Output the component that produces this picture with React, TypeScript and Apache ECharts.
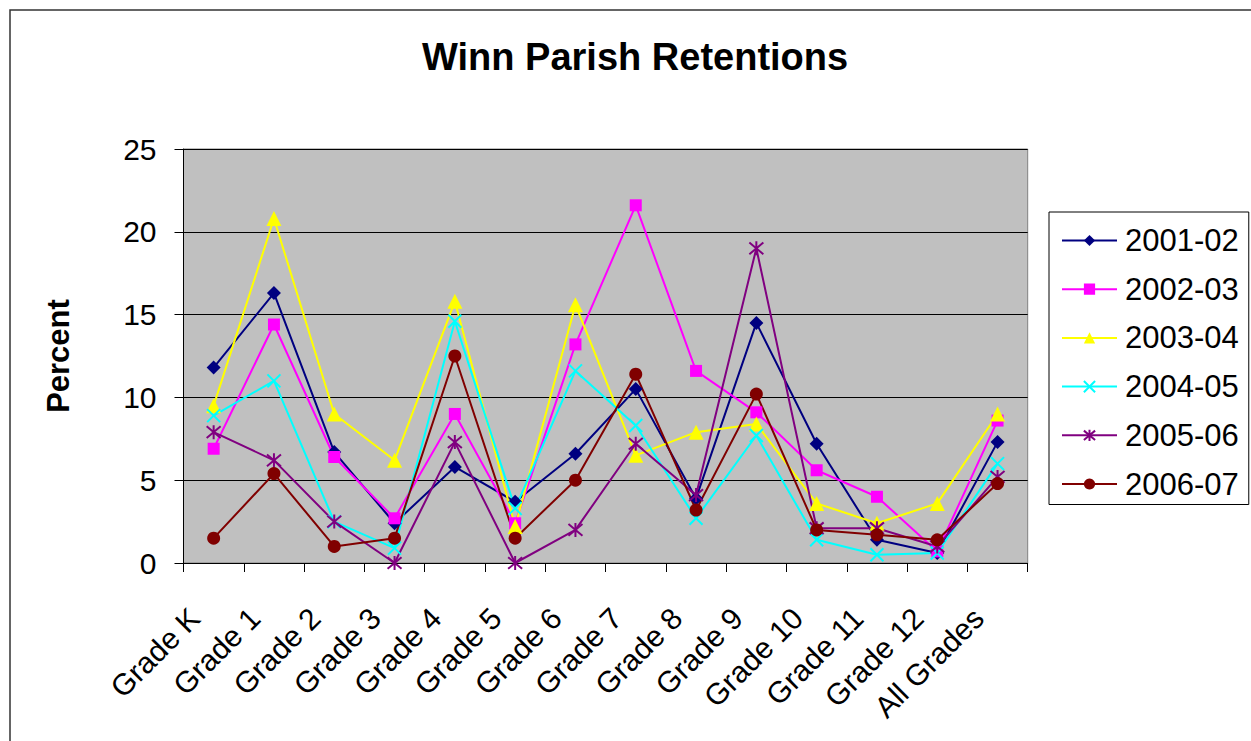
import React, { useEffect, useRef } from "react";
import * as echarts from "echarts";

const categories = ["Grade K", "Grade 1", "Grade 2", "Grade 3", "Grade 4", "Grade 5", "Grade 6", "Grade 7", "Grade 8", "Grade 9", "Grade 10", "Grade 11", "Grade 12", "All Grades"];
const seriesNames = ["2001-02", "2002-03", "2003-04", "2004-05", "2005-06", "2006-07"];
const s2001 = [11.8, 16.3, 6.7, 2.4, 5.8, 3.7, 6.6, 10.5, 3.9, 14.5, 7.2, 1.4, 0.6, 7.3];
const s2002 = [6.9, 14.4, 6.4, 2.7, 9.0, 2.4, 13.2, 21.6, 11.6, 9.1, 5.6, 4.0, 0.7, 8.6];
const s2003 = [9.5, 20.8, 9.0, 6.2, 15.8, 2.2, 15.6, 6.5, 7.9, 8.4, 3.6, 2.4, 3.6, 9.0];
const s2004 = [8.9, 11.0, 2.5, 0.9, 14.6, 3.3, 11.6, 8.3, 2.7, 7.7, 1.4, 0.5, 0.6, 6.0];
const s2005 = [7.9, 6.2, 2.5, 0, 7.3, 0, 2.0, 7.2, 4.1, 19.0, 2.1, 2.1, 1.0, 5.2];
const s2006 = [1.5, 5.4, 1.0, 1.5, 12.5, 1.5, 5.0, 11.4, 3.2, 10.2, 2.0, 1.7, 1.4, 4.8];
const yTicks = { min: 0, max: 25, interval: 5 };

const FONT = "'Liberation Sans', Arial, sans-serif";

export default function App() {
  const ref = useRef<HTMLDivElement>(null);
  useEffect(() => {
    if (!ref.current) return;
    const chart = echarts.init(ref.current, null, { renderer: "svg" });
    const colors = ["#000080", "#FF00FF", "#FFFF00", "#00FFFF", "#800080", "#800000"];
    const symbols = [
      "diamond",
      "rect",
      "triangle",
      "path://M0,0L10,10M0,10L10,0",
      "path://M0,0L10,10M0,10L10,0M5,-1L5,11",
      "circle",
    ];
    const sizes = [14, 12, 15, 13, 14, 13];
    const datas = [s2001, s2002, s2003, s2004, s2005, s2006];
    const series = datas.map((d, i) => {
      const stroked = i === 3 || i === 4;
      return {
        name: seriesNames[i],
        type: "line",
        data: d,
        symbol: symbols[i],
        symbolSize: sizes[i],
        showAllSymbol: true,
        lineStyle: { color: colors[i], width: 2 },
        itemStyle: stroked
          ? { color: colors[i], borderColor: colors[i], borderWidth: 2 }
          : { color: colors[i], borderWidth: 0 },
        emphasis: { disabled: true },
      };
    });
    chart.setOption({
      animation: false,
      backgroundColor: "#ffffff",
      textStyle: { fontFamily: FONT },
      title: {
        text: "Winn Parish Retentions",
        left: 417,
        top: 33,
        textStyle: { fontSize: 38, fontWeight: "bold", color: "#000", fontFamily: FONT },
      },
      graphic: [
        {
          type: "rect",
          shape: { x: 10, y: 10, width: 1300, height: 800 },
          style: { fill: "none", stroke: "#333", lineWidth: 1.5 },
          silent: true,
          z: -1,
        },
      ],
      legend: {
        orient: "vertical",
        left: 1049,
        top: 212,
        width: 201,
        padding: [13, 10, 5, 12],
        itemGap: 17.7,
        itemWidth: 55,
        itemHeight: 14,
        borderColor: "#000",
        borderWidth: 1,
        textStyle: { fontSize: 31, color: "#000", fontFamily: FONT, lineHeight: 30, padding: [0, 0, 0, 3] },
        data: seriesNames,
      },
      grid: { left: 183.5, top: 149, right: 223.3, bottom: 178, backgroundColor: "#C0C0C0", show: true, borderColor: "#808080", borderWidth: 1 },
      xAxis: {
        type: "category",
        data: categories,
        boundaryGap: true,
        axisLine: { lineStyle: { color: "#000", width: 1 } },
        axisTick: { show: true, length: 9, lineStyle: { color: "#000" } },
        axisLabel: { rotate: 45, fontSize: 30, color: "#000", margin: 31, padding: [0, 27, 0, 0], interval: 0, fontFamily: FONT },
        splitLine: { show: false },
      },
      yAxis: {
        type: "value",
        min: yTicks.min,
        max: yTicks.max,
        interval: yTicks.interval,
        name: "Percent",
        nameLocation: "middle",
        nameRotate: 90,
        nameGap: 110,
        nameTextStyle: { fontSize: 31, fontWeight: "bold", color: "#000", fontFamily: FONT },
        axisLine: { show: true, lineStyle: { color: "#000", width: 1 } },
        axisTick: { show: true, length: 9, lineStyle: { color: "#000" } },
        axisLabel: { fontSize: 30, color: "#000", margin: 27, fontFamily: FONT },
        splitLine: { show: true, lineStyle: { color: "#000", width: 1 } },
      },
      series,
    });
    return () => chart.dispose();
  }, []);
  return (
    <div
      ref={ref}
      style={{ position: "absolute", left: 0, top: 0, width: 1251, height: 741, overflow: "hidden" }}
    />
  );
}
